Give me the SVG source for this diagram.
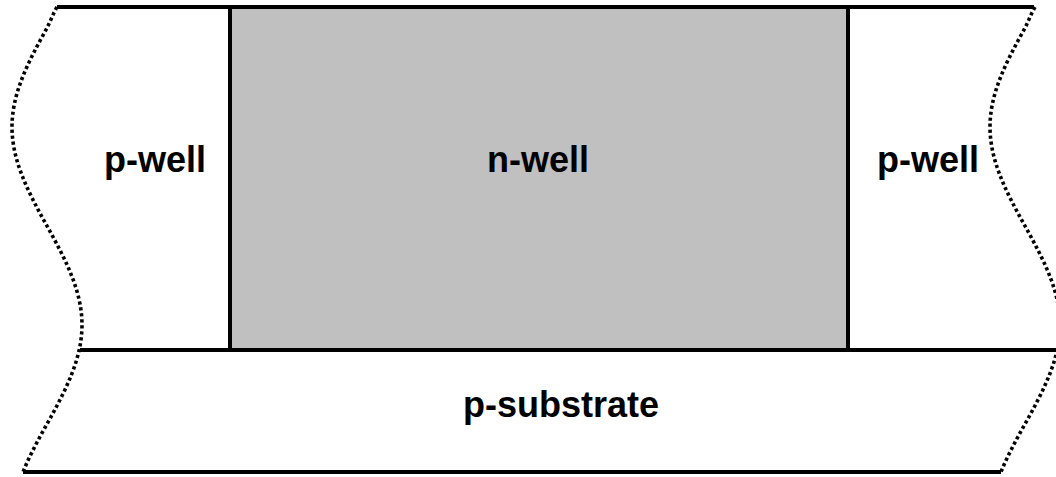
<svg xmlns="http://www.w3.org/2000/svg" width="1056" height="477" viewBox="0 0 1056 477">
  <style>
    .edge { fill: none; stroke: #000; stroke-width: 4; }
    .cut { fill: none; stroke: #000; stroke-width: 3.6; stroke-dasharray: 3.2 2.8; stroke-linecap: butt; }
    .label { font-family: "Liberation Sans", Arial, sans-serif; font-weight: bold; font-size: 36px; fill: #000; text-anchor: middle; }
  </style>
  <defs>
    <!-- wavy break line marking where the cross-section is cut off -->
    <path id="break" d="M57,7 C53,14 50.5,21 47,28 C29.1,60.3 12,92.4 12,127 C12,161.6 29.1,193.7 47,226 C64.9,258.3 82,290.4 82,325 C82,359.6 64.9,391.7 47,424 C38.1,440 29.4,456 23,472"/>
  </defs>
  <rect width="1056" height="477" fill="#fff"/>

  <g id="n-well">
    <rect x="230" y="7" width="618" height="343" fill="#c0c0c0" stroke="#000" stroke-width="4"/>
    <text class="label" x="538" y="172">n-well</text>
  </g>

  <g id="p-well-left">
    <text class="label" x="155" y="172">p-well</text>
  </g>

  <g id="p-well-right">
    <text class="label" x="928" y="172">p-well</text>
  </g>

  <g id="p-substrate">
    <text class="label" x="561" y="417">p-substrate</text>
  </g>

  <g id="boundaries">
    <line class="edge" x1="57" y1="7" x2="1034" y2="7"/>
    <line class="edge" x1="80" y1="350" x2="1056" y2="350"/>
    <line class="edge" x1="23" y1="472" x2="1001" y2="472"/>
    <use href="#break" class="cut"/>
    <use href="#break" class="cut" transform="translate(978,0)"/>
  </g>
</svg>
